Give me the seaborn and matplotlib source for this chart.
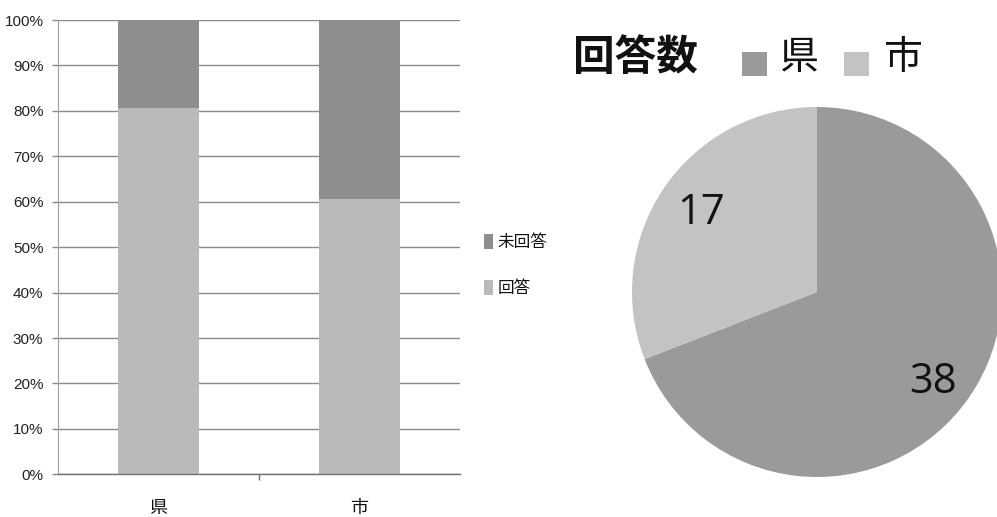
import matplotlib
matplotlib.use("Agg")
import matplotlib.pyplot as plt
from matplotlib.patches import Rectangle
from matplotlib.ticker import FuncFormatter, FixedLocator
import seaborn as sns

# --- data -------------------------------------------------------------
groups = ["県", "市"]
answered_pct = [80.6, 60.5]      # 回答 (%)
unanswered_pct = [19.4, 39.5]    # 未回答 (%)
yticks_pct = [0, 10, 20, 30, 40, 50, 60, 70, 80, 90, 100]

pie_labels = ["県", "市"]
pie_counts = [38, 17]

# --- styling ----------------------------------------------------------
sns.set_theme(style="white")
CJK = ["Noto Sans CJK JP", "DejaVu Sans"]
plt.rcParams["font.family"] = CJK

DARK_BAR = "#8e8e8e"
LIGHT_BAR = "#bababa"
DARK_PIE = "#9a9a9a"
LIGHT_PIE = "#c3c3c3"
GRID = "#8a8a8a"

W, H = 997, 517
fig = plt.figure(figsize=(W / 100, H / 100), dpi=100)
fig.patch.set_facecolor("white")


def fx(px):
    return px / W


def fy(py):
    return 1 - py / H


# --- stacked percentage bars -----------------------------------------
ax = fig.add_axes([fx(58), fy(474.3), fx(402), 454.3 / H])
totals = [a + u for a, u in zip(answered_pct, unanswered_pct)]

sns.barplot(x=groups, y=totals, color=DARK_BAR, saturation=1, width=0.4,
            linewidth=0, ax=ax, zorder=3, label="未回答")
sns.barplot(x=groups, y=answered_pct, color=LIGHT_BAR, saturation=1, width=0.4,
            linewidth=0, ax=ax, zorder=3, label="回答")

ax.set_xlim(-0.5, 1.5)
ax.set_ylim(0, 100)
ax.yaxis.set_major_locator(FixedLocator(yticks_pct))
ax.yaxis.set_major_formatter(FuncFormatter(lambda v, _: f"{v:.0f}%"))
ax.grid(axis="y", color=GRID, linewidth=1.0, zorder=0)
ax.set_axisbelow(True)
ax.set_xlabel("")
ax.set_ylabel("")

for side in ("top", "right"):
    ax.spines[side].set_visible(False)
ax.spines["left"].set_color("#a0a0a0")
ax.spines["left"].set_linewidth(0.8)
ax.spines["bottom"].set_color("#707070")
ax.spines["bottom"].set_linewidth(1.0)
ax.spines["bottom"].set_zorder(4)

ax.tick_params(axis="y", which="major", left=True, length=4, width=1,
               color=GRID, pad=6.5)
for lab in ax.get_yticklabels():
    lab.set_family(["Liberation Sans", "DejaVu Sans"])
    lab.set_fontsize(11)
    lab.set_color("#222222")

ax.tick_params(axis="x", which="major", bottom=False, length=0, pad=18)
ax.xaxis.set_minor_locator(FixedLocator([0.5]))
ax.tick_params(axis="x", which="minor", bottom=True, length=4, width=1,
               color="#707070")
for lab in ax.get_xticklabels():
    lab.set_fontsize(13)
    lab.set_color("#111111")

handles, labels = ax.get_legend_handles_labels()
leg = ax.legend(handles, labels, loc="upper left",
                bbox_to_anchor=(fx(484), fy(234)), bbox_transform=fig.transFigure,
                frameon=False, fontsize=12, handlelength=0.55, handleheight=1.0,
                handletextpad=0.25, labelspacing=1.75, borderpad=0,
                borderaxespad=0)
for t in leg.get_texts():
    t.set_color("#111111")

# --- pie of response counts ------------------------------------------
R = 185
cx, cy = 817, 292
pax = fig.add_axes([fx(cx - R), fy(cy + R), 2 * R / W, 2 * R / H])
total_count = sum(pie_counts)
wedges, _, autotexts = pax.pie(
    pie_counts, colors=[DARK_PIE, LIGHT_PIE], startangle=90, counterclock=False,
    radius=1, autopct=lambda p: f"{round(p * total_count / 100):d}",
    pctdistance=0.76, wedgeprops=dict(linewidth=0),
    textprops=dict(fontsize=30, color="#111111",
                   family=["Open Sans", "DejaVu Sans"]))
autotexts[0].set_position((autotexts[0].get_position()[0],
                           autotexts[0].get_position()[1] - 0.06))
pax.set_xlim(-1, 1)
pax.set_ylim(-1, 1)
pax.set_aspect("equal")
pax.axis("off")

# heading with legend keys
fig.text(fx(573), fy(58), "回答数", fontsize=30, fontweight="bold",
         va="center", ha="left", color="#111111")
key_x = [742, 844]
text_x = [779, 884]
for w, lab, kx, tx in zip(wedges, pie_labels, key_x, text_x):
    fig.patches.append(Rectangle((fx(kx), fy(76)), 25 / W, 24 / H,
                                 transform=fig.transFigure,
                                 facecolor=w.get_facecolor(), edgecolor="none"))
    fig.text(fx(tx), fy(58), lab, fontsize=28, va="center", ha="left",
             color="#111111")

fig.savefig("out.png", dpi=100, facecolor="white")
